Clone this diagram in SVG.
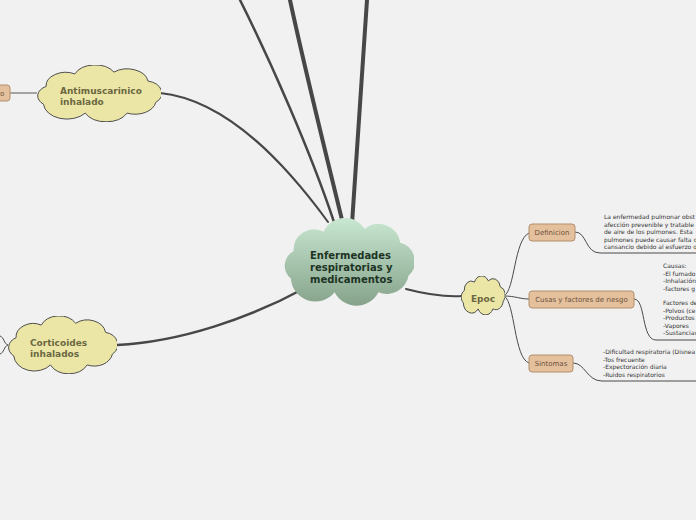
<svg xmlns="http://www.w3.org/2000/svg" xmlns:xlink="http://www.w3.org/1999/xlink" width="696" height="520" viewBox="0 0 696 520">
<style>
.bg{fill:#f1f1f1}
.main{fill:none;stroke:#474747;stroke-linecap:round}
.thin{fill:none;stroke:#4a4a4a;stroke-width:1}
.cloudY{fill:#ebe6a6;stroke:#4f4f4f;stroke-width:1}
.ctext{font-family:"DejaVu Sans",Verdana,sans-serif;font-weight:bold;font-size:10px;fill:#1d3424}
.ytext{font-family:"DejaVu Sans",Verdana,sans-serif;font-weight:bold;font-size:9px;fill:#6b6842}
.box{fill:#e5c09c;stroke:#b38f6d;stroke-width:1}
.btext{font-family:"DejaVu Sans",Verdana,sans-serif;font-size:7px;fill:#6a5240}
.note{font-family:"DejaVu Sans",Verdana,sans-serif;font-size:6px;fill:#333333}
</style>
<defs>
<linearGradient id="gc" x1="0" y1="0" x2="0" y2="1">
<stop offset="0" stop-color="#c9e8d1"/>
<stop offset="1" stop-color="#86a28b"/>
</linearGradient>
<symbol id="cloud" viewBox="3 -2 95 64" preserveAspectRatio="none">
<path vector-effect="non-scaling-stroke" d="M8,42 A12,12 0 0 1 10,22 A15,15 0 0 1 32,8 A17,17 0 0 1 62,6 A16,16 0 0 1 88,16 A14,14 0 0 1 94,40 A16,16 0 0 1 72,52 A18,18 0 0 1 40,52 A18,18 0 0 1 8,42 Z"/>
</symbol>
</defs>
<rect class="bg" x="0" y="0" width="696" height="520"/>

<g id="connectors">
<path class="main" stroke-width="2.5" d="M240,0 C270,60 310,150 334,222"/>
<path class="main" stroke-width="4" d="M290,0 C305,70 325,150 343,224"/>
<path class="main" stroke-width="4" d="M367,0 C362,80 356,160 352,224"/>
<path class="main" stroke-width="2" d="M160,93 C230,100 290,170 328,222"/>
<path class="main" stroke-width="2.5" d="M117,345 C180,342 250,318 305,288"/>
<path class="main" stroke-width="2" d="M406,289 C425,294 445,297 462,296"/>
<path fill="none" stroke="#888" stroke-width="1.5" d="M10,93 L37,93"/>
<path class="thin" d="M8,345 C4,344 4,337 0,336 M8,345 C4,346 4,353 0,354"/>
<path class="thin" d="M504,296 C515,290 514,240 529,233"/>
<path class="thin" d="M504,296 C515,296 520,299 529,299"/>
<path class="thin" d="M504,296 C515,302 514,358 529,363"/>
<path class="thin" d="M575,232 C587,232 585,253 600,253 H696"/>
<path class="thin" d="M634,299 C646,299 641,340 656,340 H696"/>
<path class="thin" d="M573,363 C585,363 587,381 602,381 H696"/>
</g>

<g id="center">
<use xlink:href="#cloud" href="#cloud" x="284" y="218" width="130" height="88" fill="url(#gc)"/>
<text class="ctext" x="310" y="259">Enfermedades</text>
<text class="ctext" x="310" y="271">respiratorias y</text>
<text class="ctext" x="310" y="283">medicamentos</text>
</g>

<g id="antimuscarinico">
<use xlink:href="#cloud" href="#cloud" class="cloudY" x="37" y="65" width="124" height="57"/>
<text class="ytext" x="60" y="94">Antimuscarinico</text>
<text class="ytext" x="60" y="105">inhalado</text>
</g>

<g id="left-box">
<rect class="box" x="-20" y="85" width="30" height="16" rx="3"/>
<text class="btext" x="0" y="95.5">o</text>
</g>

<g id="corticoides">
<use xlink:href="#cloud" href="#cloud" class="cloudY" x="8" y="316" width="109" height="58"/>
<text class="ytext" x="30" y="346">Corticoides</text>
<text class="ytext" x="30" y="357">inhalados</text>
</g>

<g id="epoc">
<use xlink:href="#cloud" href="#cloud" class="cloudY" x="461" y="276" width="44" height="39"/>
<text class="ytext" x="483" y="302" text-anchor="middle">Epoc</text>
</g>

<g id="definicion">
<rect class="box" x="529" y="224" width="46" height="17" rx="3"/>
<text class="btext" x="552" y="235" text-anchor="middle">Definicion</text>
</g>

<g id="causas">
<rect class="box" x="529" y="291" width="105" height="17" rx="3"/>
<text class="btext" x="581.5" y="302" text-anchor="middle">Cusas y factores de riesgo</text>
</g>

<g id="sintomas">
<rect class="box" x="529" y="355" width="44" height="17" rx="3"/>
<text class="btext" x="551" y="366" text-anchor="middle">Sintomas</text>
</g>

<g id="definicion-text">
<text class="note" x="604" y="219">La enfermedad pulmonar obst</text>
<text class="note" x="604" y="226.5">afección prevenible y tratable</text>
<text class="note" x="604" y="234">de aire de los pulmones. Esta</text>
<text class="note" x="604" y="241.5">pulmones puede causar falta d</text>
<text class="note" x="604" y="249">cansancio debido al esfuerzo q</text>
</g>

<g id="causas-text">
<text class="note" x="663" y="268">Causas:</text>
<text class="note" x="663" y="275.5">-El fumado</text>
<text class="note" x="663" y="283">-Inhalación</text>
<text class="note" x="663" y="290.5">-factores g</text>
<text class="note" x="663" y="305">Factores de</text>
<text class="note" x="663" y="312.5">-Polvos (ce</text>
<text class="note" x="663" y="320">-Productos</text>
<text class="note" x="663" y="327.5">-Vapores</text>
<text class="note" x="663" y="335">-Sustancias</text>
</g>

<g id="sintomas-text">
<text class="note" x="603" y="354">-Dificultad respiratoria (Disnea</text>
<text class="note" x="603" y="361.5">-Tos frecuente</text>
<text class="note" x="603" y="369">-Expectoración diaria</text>
<text class="note" x="603" y="376.5">-Ruidos respiratorios</text>
</g>
</svg>
